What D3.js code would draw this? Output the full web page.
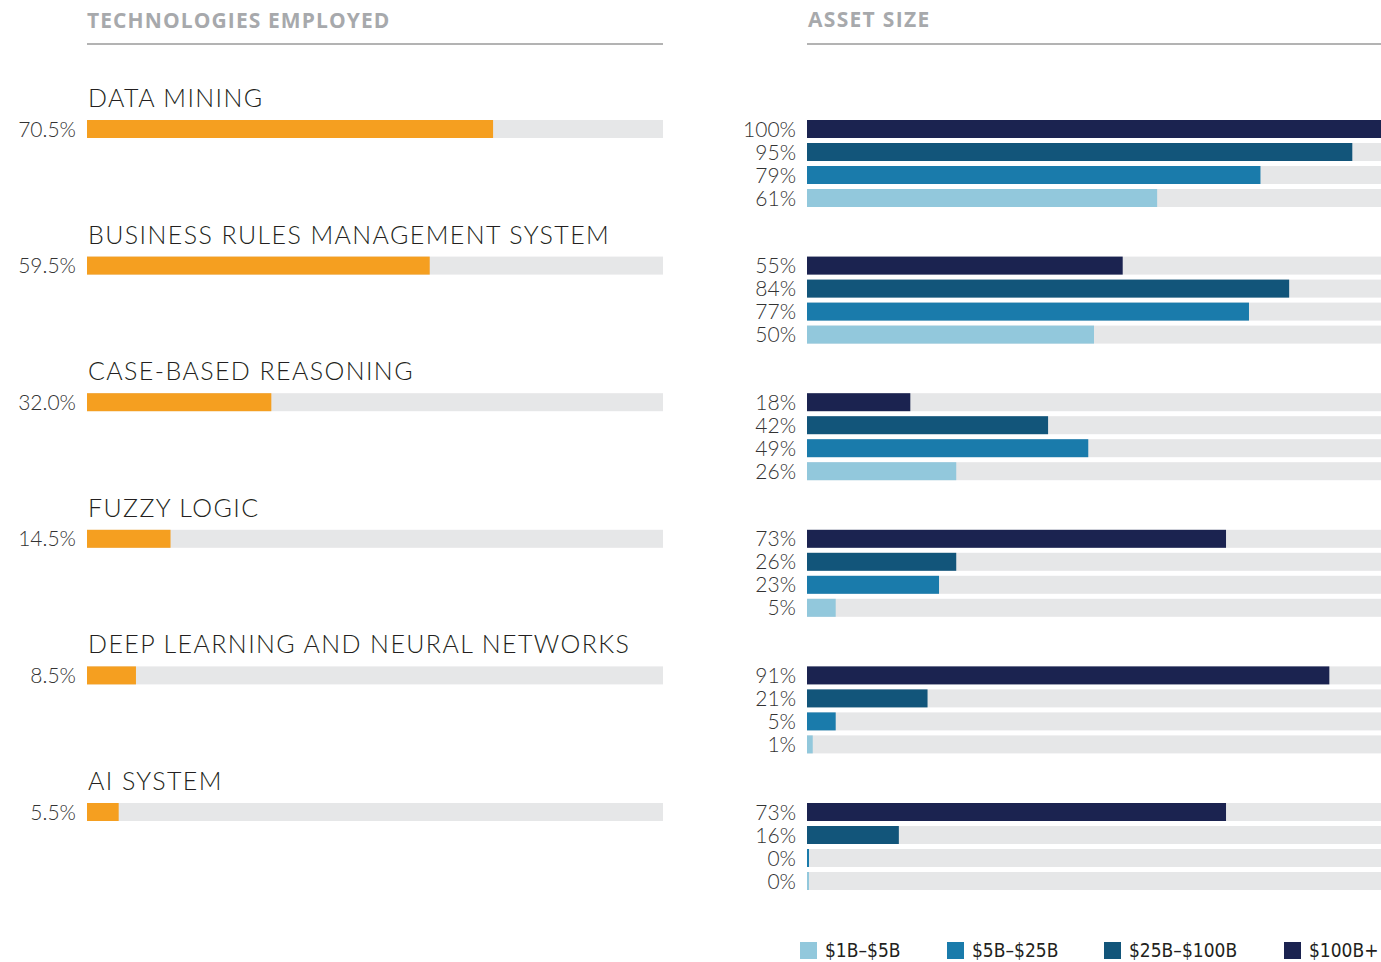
<!DOCTYPE html>
<html>
<head>
<meta charset="utf-8">
<script src="https://cdn.jsdelivr.net/npm/d3@7"></script>
<style>
  body { margin: 0; background: #fff; }
  svg { display: block; }
</style>
</head>
<body>
<div id="chart"></div>
<script>
// categories and values
var categories = ["DATA MINING", "BUSINESS RULES MANAGEMENT SYSTEM", "CASE-BASED REASONING",
  "FUZZY LOGIC", "DEEP LEARNING AND NEURAL NETWORKS", "AI SYSTEM"];
var techValues = [70.5, 59.5, 32.0, 14.5, 8.5, 5.5];

// asset size series, in the order they are stacked inside a group (top to bottom)
var sizeNames = ["$100B+", "$25B\u2013$100B", "$5B\u2013$25B", "$1B\u2013$5B"];
var size100Plus = [100, 55, 18, 73, 91, 73];
var size25to100 = [95, 84, 42, 26, 21, 16];
var size5to25 = [79, 77, 49, 23, 5, 0];
var size1to5 = [61, 50, 26, 5, 1, 0];
var legendOrder = ["$1B\u2013$5B", "$5B\u2013$25B", "$25B\u2013$100B", "$100B+"];

document.addEventListener("DOMContentLoaded", function () {
  var W = 1381, H = 962;
  var svg = d3.select("#chart").append("svg").attr("width", W).attr("height", H);

  var colors = d3.scaleOrdinal()
    .domain(sizeNames)
    .range(["#1b2350", "#12557a", "#1a7bab", "#92c8dc"]);

  var lightFont = "Lato, 'Open Sans', sans-serif";
  var barH = 18;

  // group positions (top of first bar in each group)
  var groupY = d3.scalePoint()
    .domain(categories)
    .range([120, 803]);

  // ---- left panel: technologies employed
  var xl = d3.scaleLinear().domain([0, 100]).range([87, 663]);

  svg.append("text")
    .attr("x", 87).attr("y", 28)
    .attr("font-family", "'Open Sans', sans-serif")
    .attr("font-weight", 700)
    .attr("font-size", 21)
    .attr("letter-spacing", 1.1)
    .attr("fill", "#a7a9ac")
    .text("TECHNOLOGIES EMPLOYED");
  svg.append("line")
    .attr("x1", 87).attr("x2", 663).attr("y1", 44).attr("y2", 44)
    .attr("stroke", "#b3b3b3").attr("stroke-width", 2);

  var left = svg.append("g").selectAll("g")
    .data(categories)
    .enter().append("g")
    .attr("transform", function (d) { return "translate(0," + groupY(d) + ")"; });

  left.append("text")
    .attr("x", 88).attr("y", -13)
    .attr("font-family", lightFont)
    .attr("font-weight", 300)
    .attr("font-size", 25)
    .attr("letter-spacing", 1.4)
    .attr("fill", "#231f20")
    .text(function (d) { return d; });

  left.append("rect")
    .attr("x", xl(0)).attr("y", 0)
    .attr("width", xl(100) - xl(0)).attr("height", barH)
    .attr("fill", "#e6e7e8");

  left.append("rect")
    .attr("x", xl(0)).attr("y", 0)
    .attr("width", function (d, i) { return xl(techValues[i]) - xl(0); })
    .attr("height", barH)
    .attr("fill", "#f59f20");

  left.append("text")
    .attr("x", 76).attr("y", barH / 2)
    .attr("dy", "0.36em")
    .attr("text-anchor", "end")
    .attr("font-family", lightFont)
    .attr("font-weight", 300)
    .attr("font-size", 21)
    .attr("fill", "#333")
    .text(function (d, i) { return techValues[i].toFixed(1) + "%"; });

  // ---- right panel: asset size
  var xr = d3.scaleLinear().domain([0, 100]).range([807, 1381]);
  var rowY = d3.scaleBand().domain(sizeNames).range([0, 4 * 23 - 5]).paddingInner(5 / 23);
  var series = [size100Plus, size25to100, size5to25, size1to5];

  svg.append("text")
    .attr("x", 808).attr("y", 27)
    .attr("font-family", "'Open Sans', sans-serif")
    .attr("font-weight", 700)
    .attr("font-size", 21)
    .attr("letter-spacing", 1.3)
    .attr("fill", "#a7a9ac")
    .text("ASSET SIZE");
  svg.append("line")
    .attr("x1", 807).attr("x2", 1381).attr("y1", 44).attr("y2", 44)
    .attr("stroke", "#b3b3b3").attr("stroke-width", 2);

  var right = svg.append("g").selectAll("g")
    .data(categories)
    .enter().append("g")
    .attr("transform", function (d) { return "translate(0," + groupY(d) + ")"; });

  var rows = right.selectAll("g")
    .data(function (d, i) {
      return sizeNames.map(function (s, k) { return { name: s, value: series[k][i] }; });
    })
    .enter().append("g")
    .attr("transform", function (d) { return "translate(0," + rowY(d.name) + ")"; });

  rows.append("rect")
    .attr("x", xr(0)).attr("y", 0)
    .attr("width", xr(100) - xr(0)).attr("height", rowY.bandwidth())
    .attr("fill", "#e6e7e8");

  rows.append("rect")
    .attr("x", xr(0)).attr("y", 0)
    .attr("width", function (d) { return Math.max(2, xr(d.value) - xr(0)); })
    .attr("height", rowY.bandwidth())
    .attr("fill", function (d) { return colors(d.name); });

  rows.append("text")
    .attr("x", 796).attr("y", rowY.bandwidth() / 2)
    .attr("dy", "0.36em")
    .attr("text-anchor", "end")
    .attr("font-family", lightFont)
    .attr("font-weight", 300)
    .attr("font-size", 21)
    .attr("fill", "#333")
    .text(function (d) { return d.value + "%"; });

  // ---- legend
  var legendX = d3.scaleOrdinal().domain(legendOrder).range([806, 953, 1110, 1290]);
  var legendG = svg.append("g");
  var legend = legendG.selectAll("g")
    .data(legendOrder)
    .enter().append("g")
    .attr("transform", function (d) { return "translate(" + legendX(d) + ",942)"; });

  legend.append("rect")
    .attr("width", 17).attr("height", 17)
    .attr("fill", function (d) { return colors(d); });

  legend.append("text")
    .attr("x", 25).attr("y", 8.5)
    .attr("dy", "0.36em")
    .attr("font-family", "'Liberation Sans Narrow', 'DejaVu Sans Condensed', sans-serif")
    .attr("font-size", 19)
    .attr("fill", "#231f20")
    .text(function (d) { return d; });

  // pull the whole legend left if the last label would run past the edge
  var lastBox = legend.filter(function (d, i) { return i === legendOrder.length - 1; })
    .select("text").node().getBBox();
  var over = legendX(legendOrder[legendOrder.length - 1]) + lastBox.x + lastBox.width - (W - 2);
  if (over > 0) legendG.attr("transform", "translate(" + (-Math.ceil(over)) + ",0)");
});
</script>
</body>
</html>
